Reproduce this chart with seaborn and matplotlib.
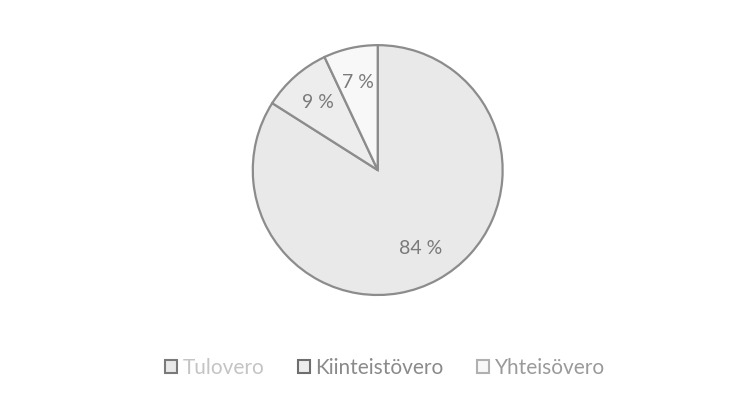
import matplotlib
matplotlib.use("Agg")
import matplotlib.pyplot as plt
import seaborn as sns
from matplotlib.patches import Patch

# Verojen osuudet
categories = ["Tulovero", "Kiinteistövero", "Yhteisövero"]
shares = [84, 9, 7]
slice_colors = ["#e9e9e9", "#ededed", "#f8f8f8"]
legend_text_colors = ["#c4c4c4", "#8a8a8a", "#9a9a9a"]
legend_edge_colors = ["#7a7a7a", "#6e6e6e", "#b0b0b0"]

sns.set_theme(style="white")
plt.rcParams["font.family"] = ["Lato", "DejaVu Sans"]

fig = plt.figure(figsize=(7.37, 4.03), dpi=100)
fig.patch.set_facecolor("white")
ax = fig.add_axes([0.343, 0.268, 0.339, 0.62])

wedges, texts, autotexts = ax.pie(
    shares,
    colors=slice_colors,
    startangle=90,
    counterclock=False,
    autopct=lambda p: f"{p:.0f} %",
    pctdistance=0.72,
    wedgeprops=dict(edgecolor="#8c8c8c", linewidth=1.6),
    textprops=dict(color="#7a7a7a", fontsize=14),
)
ax.set_xlim(-1.0, 1.0)
ax.set_ylim(-1.0, 1.0)
ax.set_aspect("equal")

handles = [Patch(facecolor=c, edgecolor=e, linewidth=1.5, label=l)
           for c, e, l in zip(slice_colors, legend_edge_colors, categories)]
leg = fig.legend(handles=handles, loc="center", bbox_to_anchor=(0.522, 0.087),
                 ncol=3, frameon=False, fontsize=15, handlelength=0.6,
                 handleheight=0.6, handletextpad=0.25, columnspacing=1.6)
for t, c in zip(leg.get_texts(), legend_text_colors):
    t.set_color(c)

fig.savefig("out.png", dpi=100, facecolor="white")
